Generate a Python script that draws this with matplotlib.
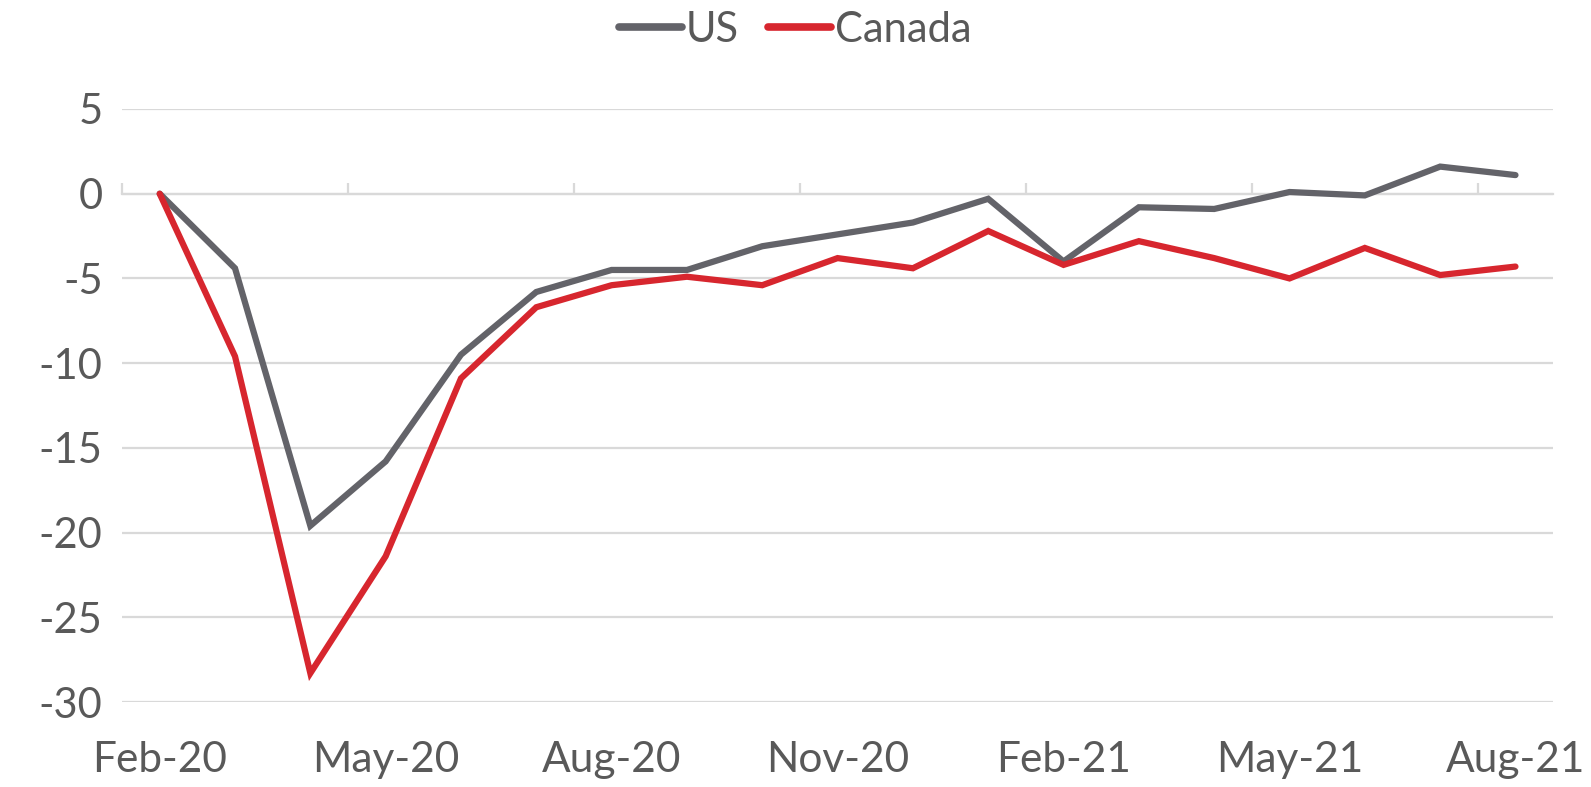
import matplotlib.pyplot as plt
import matplotlib.transforms as mtransforms

months = ['Feb-20', 'Mar-20', 'Apr-20', 'May-20', 'Jun-20', 'Jul-20', 'Aug-20',
          'Sep-20', 'Oct-20', 'Nov-20', 'Dec-20', 'Jan-21', 'Feb-21', 'Mar-21',
          'Apr-21', 'May-21', 'Jun-21', 'Jul-21', 'Aug-21']
us = [0, -4.4, -19.6, -15.8, -9.5, -5.8, -4.5, -4.5, -3.1, -2.4, -1.7, -0.3,
      -4.0, -0.8, -0.9, 0.1, -0.1, 1.6, 1.1]
canada = [0, -9.6, -28.3, -21.4, -10.9, -6.7, -5.4, -4.9, -5.4, -3.8, -4.4, -2.2,
          -4.2, -2.8, -3.8, -5.0, -3.2, -4.8, -4.3]
y_ticks = [5, 0, -5, -10, -15, -20, -25, -30]

text_color = '#595959'
grid_color = '#D9D9D9'
plt.rcParams['font.family'] = ['Lato', 'DejaVu Sans']

fig = plt.figure(figsize=(15.91, 7.87), dpi=100)
ax = fig.add_axes([0.0767, 0.108, 0.8995, 0.7535])

x = list(range(len(months)))
ax.plot(x, us, color='#636369', linewidth=4.5, solid_capstyle='round',
        solid_joinstyle='miter', label='US', zorder=3)
ax.plot(x, canada, color='#D7262E', linewidth=4.5, solid_capstyle='round',
        solid_joinstyle='miter', label='Canada', zorder=3)

ax.set_xlim(-0.5, len(months) - 0.5)
ax.set_ylim(min(y_ticks), max(y_ticks))
ax.set_yticks(y_ticks)
ax.set_yticklabels([str(v) for v in y_ticks])
ax.yaxis.grid(True, color=grid_color, linewidth=1.6)
ax.tick_params(axis='y', length=0, labelsize=30, labelcolor=text_color, pad=14)

for s in ['top', 'right', 'left']:
    ax.spines[s].set_visible(False)
ax.spines['bottom'].set_position(('data', 0))
ax.spines['bottom'].set_color(grid_color)
ax.spines['bottom'].set_linewidth(1.6)
ax.set_xticks([i - 0.5 for i in range(0, len(months), 3)])
ax.set_xticklabels([])
ax.tick_params(axis='x', direction='in', length=8, width=1.6, color=grid_color)

trans = mtransforms.blended_transform_factory(ax.transData, ax.transAxes)
for i in range(0, len(months), 3):
    ax.text(i, -0.097, months[i], transform=trans, ha='center', va='center',
            fontsize=30.5, color=text_color)

leg = fig.legend(loc='center', bbox_to_anchor=(0.5, 0.962), ncol=2, frameon=False,
                 fontsize=30, handlelength=1.5, handletextpad=0.1, columnspacing=0.7,
                 labelcolor=text_color)
for line in leg.get_lines():
    line.set_linewidth(5.5)

fig.savefig('out.png', dpi=100)
